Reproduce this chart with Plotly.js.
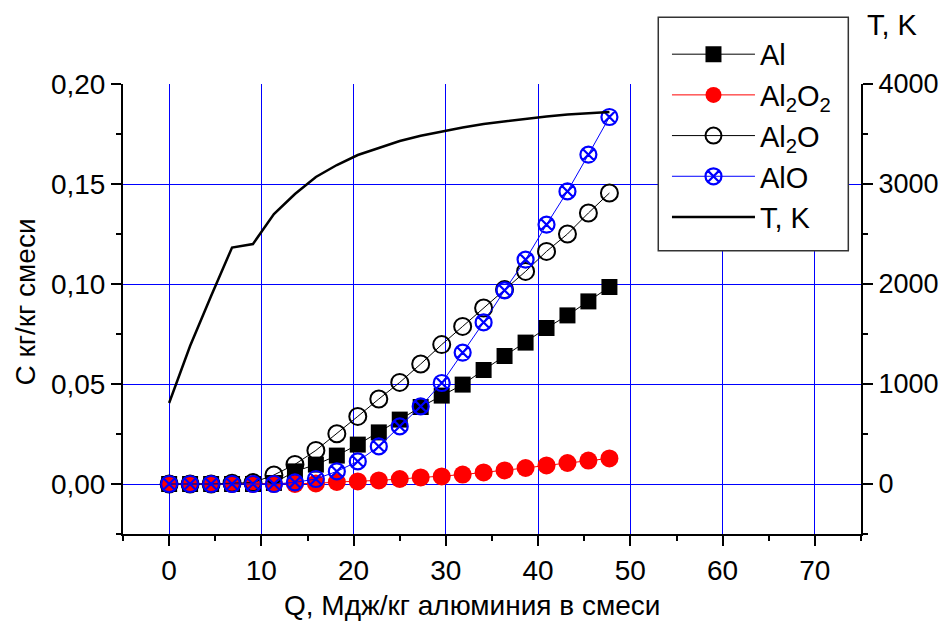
<!DOCTYPE html>
<html>
<head>
<meta charset="utf-8">
<script src="https://cdn.plot.ly/plotly-3.0.1.min.js"></script>
<style>html,body{margin:0;padding:0;background:#fff;}#chart{width:939px;height:627px;}</style>
</head>
<body>
<div id="chart"></div>
<script>
// Q, MJ/kg aluminium in mixture
const q = [0, 2.27, 4.55, 6.82, 9.09, 11.36, 13.64, 15.91, 18.18, 20.45, 22.73, 25.0, 27.27, 29.55, 31.82, 34.09, 36.36, 38.64, 40.91, 43.18, 45.45, 47.73];
// concentrations, kg/kg mixture
const al    = [0, 0, 0, 0, 0, 0.0005, 0.0063, 0.0097, 0.0142, 0.0197, 0.0258, 0.0322, 0.0385, 0.0442, 0.0497, 0.057, 0.064, 0.0707, 0.078, 0.0843, 0.0913, 0.0985];
const al2o2 = [0, 0, 0, 0, 0, 0, 0, 0.0003, 0.001, 0.0013, 0.0018, 0.0025, 0.0033, 0.0038, 0.0047, 0.0058, 0.0068, 0.008, 0.0093, 0.0105, 0.0117, 0.0128];
const al2o  = [0, 0, 0, 0.0004, 0.0007, 0.0045, 0.0098, 0.0168, 0.0251, 0.0338, 0.0425, 0.0508, 0.060, 0.0697, 0.0788, 0.088, 0.0972, 0.1063, 0.1163, 0.125, 0.1355, 0.1455];
const alo   = [0, 0, 0, 0, 0, 0, 0.0008, 0.0025, 0.0063, 0.0113, 0.0188, 0.0288, 0.0388, 0.0505, 0.0657, 0.0808, 0.0968, 0.1122, 0.1297, 0.1463, 0.1647, 0.1835];
// temperature, K
const temp  = [810, 1380, 1880, 2365, 2400, 2700, 2900, 3070, 3190, 3290, 3360, 3430, 3483, 3525, 3565, 3600, 3625, 3655, 3675, 3695, 3710, 3720];

const names = ['Al', 'Al<sub>2</sub>O<sub>2</sub>', 'Al<sub>2</sub>O', 'AlO', 'T, K'];

const traces = [
  {x: q, y: al, name: names[0], mode: 'lines+markers', legendgroup: 'a',
   line: {color: '#000', width: 1}, marker: {symbol: 'square', size: 16, color: '#000'}},
  {x: q, y: al2o2, name: names[1], mode: 'lines+markers', legendgroup: 'b',
   line: {color: '#ff0000', width: 1}, marker: {symbol: 'circle', size: 18, color: '#ff0000'}},
  {x: q, y: al2o, name: names[2], mode: 'lines+markers', legendgroup: 'c',
   line: {color: '#000', width: 1}, marker: {symbol: 'circle-open', size: 17, color: '#000', line: {width: 2, color: '#000'}}},
  {x: q, y: alo, name: names[3], mode: 'lines+markers', legendgroup: 'd',
   line: {color: '#0000ff', width: 1}, marker: {symbol: 'circle-x-open', size: 16, color: '#0000ff', line: {width: 2.2, color: '#0000ff'}}},
  {x: q, y: temp, name: names[4], mode: 'lines', yaxis: 'y2', legendgroup: 'e',
   line: {color: '#000', width: 2.5}}
];

const FAM = 'Liberation Sans, Arial, sans-serif';
const tickFont = {family: FAM, size: 28, color: '#000'};
const rightTickFont = {family: FAM, size: 27, color: '#000'};
const legFont = {family: FAM, size: 29, color: '#000'};

const layout = {
  width: 939, height: 627,
  margin: {l: 123, r: 78, t: 84, b: 93},
  paper_bgcolor: '#fff', plot_bgcolor: '#fff',
  font: tickFont,
  separators: ', ',
  showlegend: true,
  legend: {
    x: 0.7371, y: 1.1226, xanchor: 'left', yanchor: 'top',
    bgcolor: 'rgba(0,0,0,0)', borderwidth: 0,
    font: legFont, itemwidth: 83, traceorder: 'grouped', tracegroupgap: 0
  },
  xaxis: {
    range: [-5, 75], tick0: 0, dtick: 10,
    showgrid: true, gridcolor: '#0000ff', gridwidth: 1, zeroline: false,
    showline: true, linecolor: '#000', linewidth: 2,
    ticks: 'outside', ticklen: 10, tickwidth: 2, tickcolor: '#000',
    minor: {dtick: 5, ticks: 'outside', ticklen: 5, tickwidth: 2, tickcolor: '#000', showgrid: false},
    tickfont: tickFont
  },
  yaxis: {
    range: [-0.025, 0.2], tick0: 0, dtick: 0.05, tickformat: '.2f',
    showgrid: true, gridcolor: '#0000ff', gridwidth: 1, zeroline: false,
    showline: true, linecolor: '#000', linewidth: 2,
    ticks: 'outside', ticklen: 10, tickwidth: 2, tickcolor: '#000',
    minor: {dtick: 0.025, ticks: 'outside', ticklen: 5, tickwidth: 2, tickcolor: '#000', showgrid: false},
    tickfont: tickFont
  },
  yaxis2: {
    overlaying: 'y', side: 'right', anchor: 'x',
    range: [-500, 4000], tick0: 0, dtick: 1000,
    showgrid: false, zeroline: false,
    showline: true, linecolor: '#000', linewidth: 2,
    ticks: 'outside', ticklen: 10, tickwidth: 2, tickcolor: '#000',
    minor: {dtick: 500, ticks: 'outside', ticklen: 5, tickwidth: 2, tickcolor: '#000', showgrid: false},
    tickfont: rightTickFont
  },
  shapes: [
    {type: 'rect', xref: 'paper', yref: 'paper', x0: 0.7253, x1: 0.9828, y0: 0.6296, y1: 1.1482,
     fillcolor: '#fff', line: {color: '#333', width: 1.5}, layer: 'above'}
  ],
  annotations: [
    {text: 'Q, Мдж/кг алюминия в смеси', xref: 'paper', yref: 'paper', x: 0.473, y: -0.158,
     xanchor: 'center', yanchor: 'middle', showarrow: false, font: {family: FAM, size: 28, color: '#000'}},
    {text: 'С кг/кг смеси', xref: 'paper', yref: 'paper', x: -0.132, y: 0.516, textangle: -90,
     xanchor: 'center', yanchor: 'middle', showarrow: false, font: {family: FAM, size: 28, color: '#000'}},
    {text: 'T, K', xref: 'paper', yref: 'paper', x: 1.043, y: 1.131,
     xanchor: 'center', yanchor: 'middle', showarrow: false, font: {family: FAM, size: 29, color: '#000'}}
  ]
};

Plotly.newPlot('chart', traces, layout, {displayModeBar: false, staticPlot: true});
</script>
</body>
</html>
